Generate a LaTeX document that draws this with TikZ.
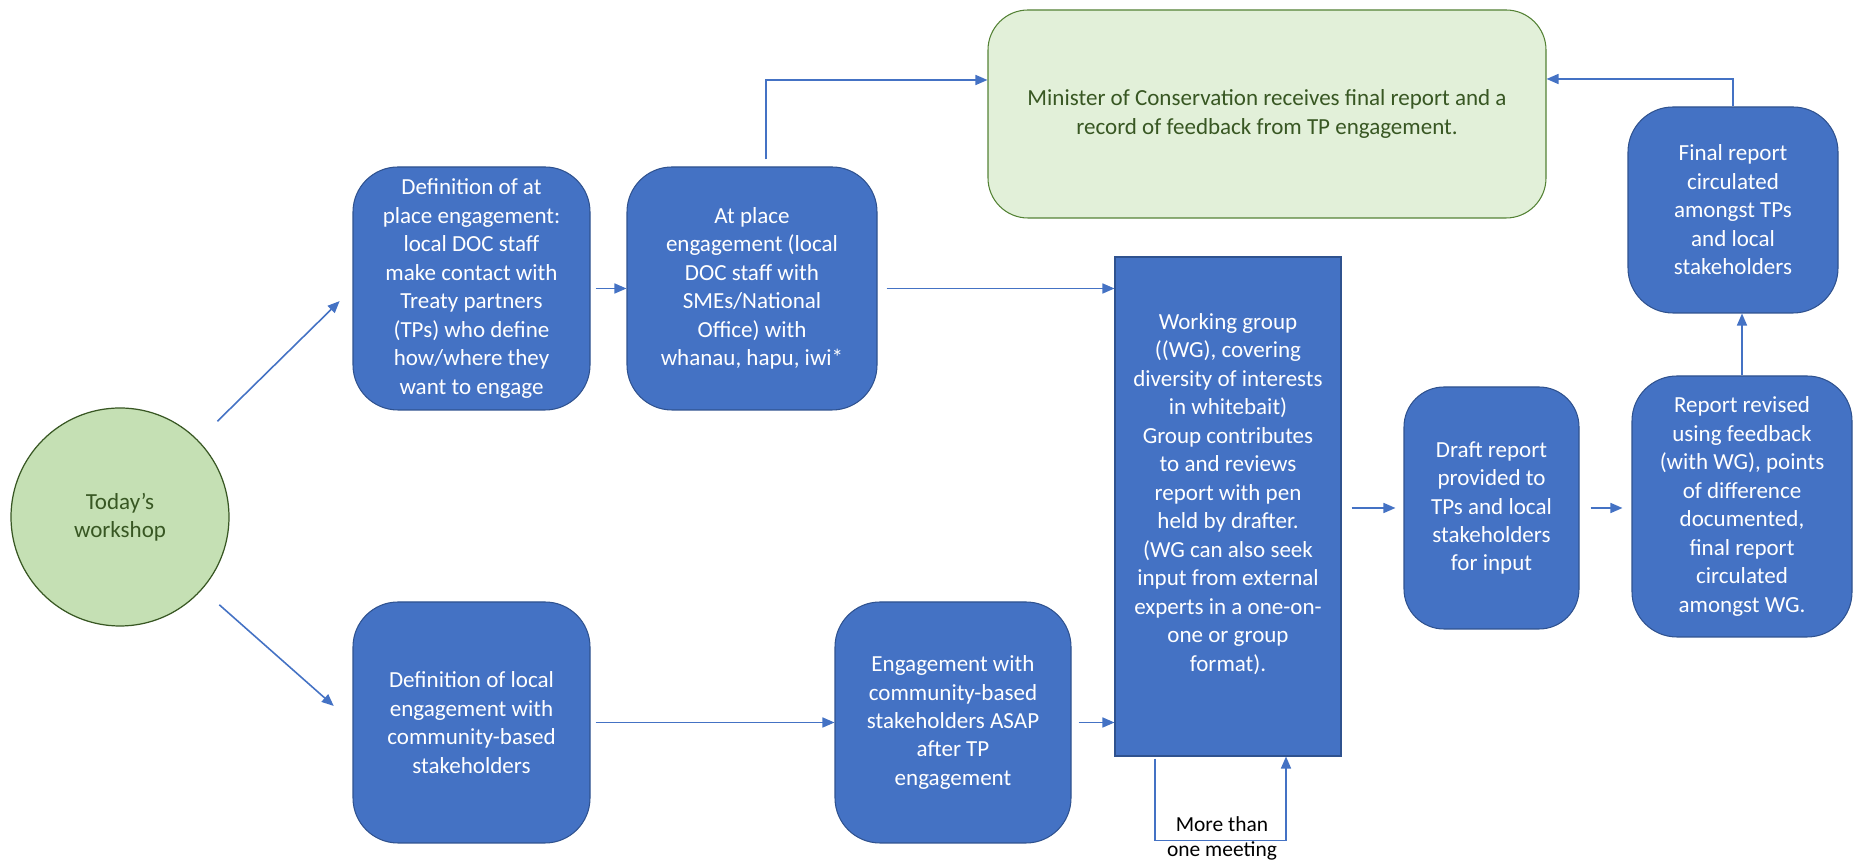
\documentclass[tikz,border=0pt]{standalone}
\usepackage{fontspec}
\setmainfont{Carlito}
\usetikzlibrary{arrows.meta}
\definecolor{docblue}{RGB}{68, 114, 196}
\definecolor{docedge}{RGB}{47, 82, 143}
\definecolor{palegreen}{RGB}{226, 240, 217}
\definecolor{midgreen}{RGB}{197, 224, 180}
\definecolor{edgegreen}{RGB}{84, 130, 53}
\definecolor{darkgreen}{RGB}{56, 87, 35}

\begin{document}
\begin{tikzpicture}[
  stepbox/.style={draw=docedge, line width=0.6pt, fill=docblue, text=white, align=center,
    rounded corners=0.9cm, inner sep=0pt, font=\fontsize{13.1}{16.2}\selectfont},
  greenbox/.style={stepbox, draw=edgegreen, fill=palegreen, text=darkgreen, rounded corners=0.8cm},
  flow/.style={draw=docblue, line width=0.9pt, -{Triangle[length=0.24cm, width=0.2cm]}}
]
  \useasboundingbox (0, 0) rectangle (37.08, 17.32);

  % Start: today's workshop (circle on the left)
  \node[circle, draw=darkgreen, line width=0.7pt, fill=midgreen, text=darkgreen, minimum size=4.36cm,
    align=center, font=\fontsize{13.1}{16.2}\selectfont] (today) at (2.40, 6.98) {Today’s\\workshop};

  % Upper branch: at place engagement with Treaty partners
  \node[stepbox, minimum width=4.74cm, minimum height=4.86cm] (defplace) at (9.43, 11.55)
    {Definition of at\\place engagement:\\local DOC staff\\make contact with\\Treaty partners\\(TPs) who define\\how/where they\\want to engage};
  \node[stepbox, minimum width=5.0cm, minimum height=4.86cm] (atplace) at (15.04, 11.55)
    {At place\\engagement (local\\DOC staff with\\SMEs/National\\Office) with\\whanau, hapu, iwi*};

  % Minister box (top)
  \node[greenbox, minimum width=11.16cm, minimum height=4.16cm] (minister) at (25.34, 15.04)
    {Minister of Conservation receives final report and a\\record of feedback from TP engagement.};

  % Lower branch: community-based stakeholders
  \node[stepbox, minimum width=4.74cm, minimum height=4.82cm] (deflocal) at (9.43, 2.87)
    {Definition of local\\engagement with\\community-based\\stakeholders};
  \node[stepbox, minimum width=4.72cm, minimum height=4.82cm] (community) at (19.06, 2.87)
    {Engagement with\\community-based\\stakeholders ASAP\\after TP\\engagement};

  % Working group (square corners)
  \node[stepbox, rounded corners=0pt, minimum width=4.52cm, minimum height=9.98cm] (wgroup) at (24.56, 7.19)
    {Working group\\((WG), covering\\diversity of interests\\in whitebait)\\Group contributes\\to and reviews\\report with pen\\held by drafter.\\(WG can also seek\\input from external\\experts in a one-on-\\one or group\\format).\\\mbox{}};

  % Report stages on the right
  \node[stepbox, rounded corners=0.8cm, minimum width=3.5cm, minimum height=4.84cm] (draft) at (29.83, 7.16)
    {Draft report\\provided to\\TPs and local\\stakeholders\\for input};
  \node[stepbox, minimum width=4.40cm, minimum height=5.22cm] (revised) at (34.84, 7.19)
    {Report revised\\using feedback\\(with WG), points\\of difference\\documented,\\final report\\circulated\\amongst WG.};
  \node[stepbox, minimum width=4.2cm, minimum height=4.12cm] (final) at (34.66, 13.12)
    {Final report\\circulated\\amongst TPs\\and local\\stakeholders};

  % Loop label under the working group
  \node[align=center, font=\fontsize{12.2}{14.2}\selectfont] (meetings) at (24.44, 0.56) {More than\\one meeting};

  % Connectors
  \draw[flow, shorten <=0.54cm, shorten >=0.36cm] (today) -- (defplace.west);
  \draw[flow, shorten <=0.46cm, shorten >=0.5cm] (today) -- (deflocal.west);
  \draw[flow, shorten <=0.1cm] (defplace) -- (atplace);
  \draw[flow, shorten <=0.18cm] (atplace.east) -- (atplace.east -| wgroup.west);
  \draw[flow] ([xshift=0.28cm, yshift=0.14cm]atplace.north) |- ([yshift=0.68cm]minister.west);
  \draw[flow, shorten <=0.1cm] (deflocal) -- (community);
  \draw[flow, shorten <=0.14cm] (community.east) -- (community.east -| wgroup.west);
  \draw[flow, shorten <=0.2cm, shorten >=0.16cm] (wgroup.east |- draft) -- (draft.west);
  \draw[flow, shorten <=0.22cm, shorten >=0.18cm] (draft.east) -- (draft.east -| revised.west);
  \draw[flow] (revised.north) -- (revised.north |- final.south);
  \draw[flow] (final.north) |- ([yshift=0.7cm]minister.east);
  \draw[flow] ([xshift=-1.46cm, yshift=-0.04cm]wgroup.south) -- ++(0, -1.64) -| ([xshift=1.16cm]wgroup.south);
\end{tikzpicture}
\end{document}
